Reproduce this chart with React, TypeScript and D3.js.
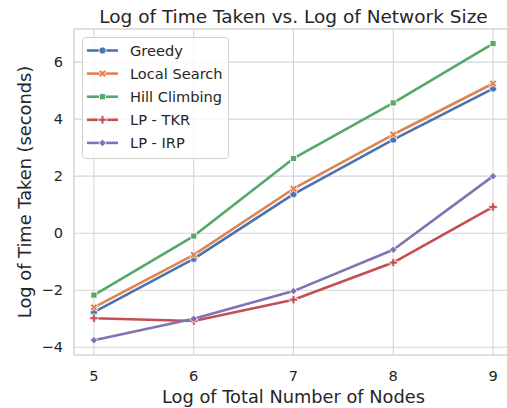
import * as d3 from 'd3';
import { useEffect, useRef } from 'react';

const nodes = [5, 6, 7, 8, 9];
const seriesNames = ['Greedy', 'Local Search', 'Hill Climbing', 'LP - TKR', 'LP - IRP'];
const greedy = [-2.77, -0.9, 1.37, 3.28, 5.07];
const localSearch = [-2.6, -0.76, 1.56, 3.46, 5.25];
const hillClimbing = [-2.17, -0.1, 2.62, 4.57, 6.65];
const lpTkr = [-2.98, -3.08, -2.33, -1.03, 0.92];
const lpIrp = [-3.75, -3.0, -2.03, -0.58, 2.0];
const xTicks = [5, 6, 7, 8, 9];
const yTicks = [-4, -2, 0, 2, 4, 6];

const colors = ['#4c72b0', '#dd8452', '#55a868', '#c44e52', '#8172b3'];

export default function App() {
  const svgRef = useRef<SVGSVGElement>(null);

  useEffect(() => {
    const svg = d3.select(svgRef.current);
    svg.selectAll('*').remove();

    const W = 507, H = 408;
    const left = 74, right = 513, top = 29, bottom = 355;
    const font = 'DejaVu Sans, sans-serif';
    const ink = '#262626';
    const grid = '#d5d5d5';

    const x = d3.scaleLinear().domain([4.8, 9.2]).range([left, right]);
    const y = d3.scaleLinear().domain([-4.27, 7.16]).range([bottom, top]);

    const all = [greedy, localSearch, hillClimbing, lpTkr, lpIrp];

    svg.append('rect').attr('width', W).attr('height', H).attr('fill', '#fff');

    // grid
    svg.selectAll('.gx').data(xTicks).enter().append('line')
      .attr('x1', d => x(d)).attr('x2', d => x(d))
      .attr('y1', top).attr('y2', bottom)
      .attr('stroke', grid).attr('stroke-width', 1.1);
    svg.selectAll('.gy').data(yTicks).enter().append('line')
      .attr('x1', left).attr('x2', right)
      .attr('y1', d => y(d)).attr('y2', d => y(d))
      .attr('stroke', grid).attr('stroke-width', 1.1);

    // frame
    svg.append('rect')
      .attr('x', left).attr('y', top)
      .attr('width', right - left).attr('height', bottom - top)
      .attr('fill', 'none').attr('stroke', '#cfcfcf').attr('stroke-width', 1.3);

    // tick labels
    svg.selectAll('.tx').data(xTicks).enter().append('text')
      .attr('x', d => x(d)).attr('y', bottom + 26)
      .attr('text-anchor', 'middle')
      .attr('font-family', font).attr('font-size', 14.6).attr('fill', ink)
      .text(d => String(d));
    svg.selectAll('.ty').data(yTicks).enter().append('text')
      .attr('x', left - 11).attr('y', d => y(d)).attr('dy', '0.35em')
      .attr('text-anchor', 'end')
      .attr('font-family', font).attr('font-size', 14.6).attr('fill', ink)
      .text(d => (d < 0 ? '\u2212' + Math.abs(d) : String(d)));

    // axis labels + title
    svg.append('text')
      .attr('x', (left + right) / 2).attr('y', bottom + 48)
      .attr('text-anchor', 'middle')
      .attr('font-family', font).attr('font-size', 17.8).attr('fill', ink)
      .text('Log of Total Number of Nodes');
    svg.append('text')
      .attr('transform', `translate(31,${(top + bottom) / 2}) rotate(-90)`)
      .attr('text-anchor', 'middle')
      .attr('font-family', font).attr('font-size', 17.8).attr('fill', ink)
      .text('Log of Time Taken (seconds)');
    svg.append('text')
      .attr('x', (left + right) / 2).attr('y', 23)
      .attr('text-anchor', 'middle')
      .attr('font-family', font).attr('font-size', 18.5).attr('fill', ink)
      .text('Log of Time Taken vs. Log of Network Size');

    const markerPath = (i: number) => {
      if (i === 0) return { d: d3.symbol(d3.symbolCircle, 40)(), rot: 0 };
      if (i === 1) return { d: d3.symbol(d3.symbolCross, 36)(), rot: 45 };
      if (i === 2) return { d: d3.symbol(d3.symbolSquare, 36)(), rot: 0 };
      if (i === 3) return { d: d3.symbol(d3.symbolCross, 40)(), rot: 0 };
      return { d: d3.symbol(d3.symbolSquare, 28)(), rot: 45 };
    };

    const line = d3.line<number>()
      .x((_, i) => x(nodes[i]))
      .y(d => y(d));

    const plot = svg.append('g');
    all.forEach((vals, i) => {
      plot.append('path')
        .datum(vals)
        .attr('fill', 'none')
        .attr('stroke', colors[i])
        .attr('stroke-width', 2.6)
        .attr('stroke-linejoin', 'round')
        .attr('d', line);
      const m = markerPath(i);
      plot.selectAll(null).data(vals).enter().append('path')
        .attr('d', m.d)
        .attr('transform', (d, j) => `translate(${x(nodes[j])},${y(d)}) rotate(${m.rot})`)
        .attr('fill', colors[i])
        .attr('stroke', '#fff').attr('stroke-width', 0.8);
    });

    // legend
    const lg = svg.append('g');
    lg.append('rect')
      .attr('x', 82.5).attr('y', 37.5).attr('width', 146).attr('height', 121)
      .attr('rx', 3)
      .attr('fill', 'rgba(255,255,255,0.8)')
      .attr('stroke', '#d0d0d0');
    seriesNames.forEach((name, i) => {
      const cy = 50.5 + i * 23.1;
      lg.append('line')
        .attr('x1', 87).attr('x2', 118).attr('y1', cy).attr('y2', cy)
        .attr('stroke', colors[i]).attr('stroke-width', 2.6);
      const m = markerPath(i);
      lg.append('path')
        .attr('d', m.d)
        .attr('transform', `translate(102.5,${cy}) rotate(${m.rot})`)
        .attr('fill', colors[i]).attr('stroke', '#fff').attr('stroke-width', 0.8);
      lg.append('text')
        .attr('x', 130).attr('y', cy).attr('dy', '0.35em')
        .attr('font-family', font).attr('font-size', 14.6).attr('fill', ink)
        .text(name);
    });
  }, []);

  return (
    <svg
      ref={svgRef}
      width={507}
      height={408}
      style={{ position: 'absolute', left: 0, top: 0 }}
    />
  );
}
